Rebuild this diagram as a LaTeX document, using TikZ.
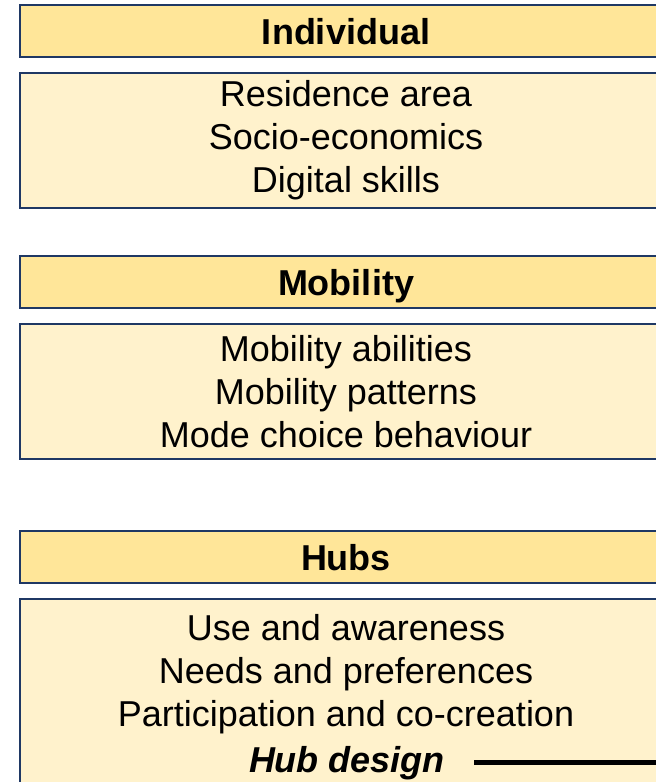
\documentclass[tikz,border=0pt]{standalone}
\usepackage{fontspec}
\setmainfont{Liberation Sans}
\usetikzlibrary{positioning}
\definecolor{navy}{RGB}{31,56,100}
\definecolor{headfill}{RGB}{255,230,153}
\definecolor{bodyfill}{RGB}{255,242,204}

\begin{document}
\begin{tikzpicture}[x=1pt,y=-1pt,
	headbox/.style={draw=navy, line width=2.8pt, fill=headfill, minimum width=652pt, minimum height=52pt, inner sep=0pt, outer sep=0pt, text height=26pt, text depth=0pt, font=\fontsize{36}{43}\selectfont\bfseries},
	bodybox/.style={draw=navy, line width=2.8pt, fill=bodyfill, minimum width=652pt, minimum height=135pt, inner sep=0pt, outer sep=0pt, align=center, font=\fontsize{36}{43}\selectfont},
	itemtext/.style={inner sep=0pt, align=center, font=\fontsize{36}{43}\selectfont},
	rule/.style={line width=4.5pt, black}]
			\useasboundingbox (0,0) rectangle (656,782);
			\clip (0,0) rectangle (656,782);
			% individual
			\node[headbox, anchor=north] (indHead) at (346,5) {Individual};
			\node[bodybox, below=16pt of indHead] (indBody) {Residence area\\Socio-economics\\Digital skills};
			% mobility
			\node[headbox, below=48pt of indBody] (mobHead) {Mobility};
			\node[bodybox, below=16pt of mobHead] (mobBody) {Mobility abilities\\Mobility patterns\\Mode choice behaviour};
			% hubs
			\node[headbox, below=72pt of mobBody] (hubHead) {Hubs};
			\node[bodybox, minimum height=192pt, below=16pt of hubHead] (hubBody) {};
			\node[itemtext] (hubList) at (346,674) {Use and awareness\\Needs and preferences\\Participation and co-creation};
			\node[itemtext, anchor=base, font=\fontsize{36}{43}\selectfont\bfseries\itshape] (hubDesign) at (347,772) {Hub design};
			\coordinate (rimX) at (662,0);
			\draw[rule] ([xshift=29pt]hubDesign.east) -- (hubDesign.east -| rimX);
			\end{tikzpicture}
\end{document}
